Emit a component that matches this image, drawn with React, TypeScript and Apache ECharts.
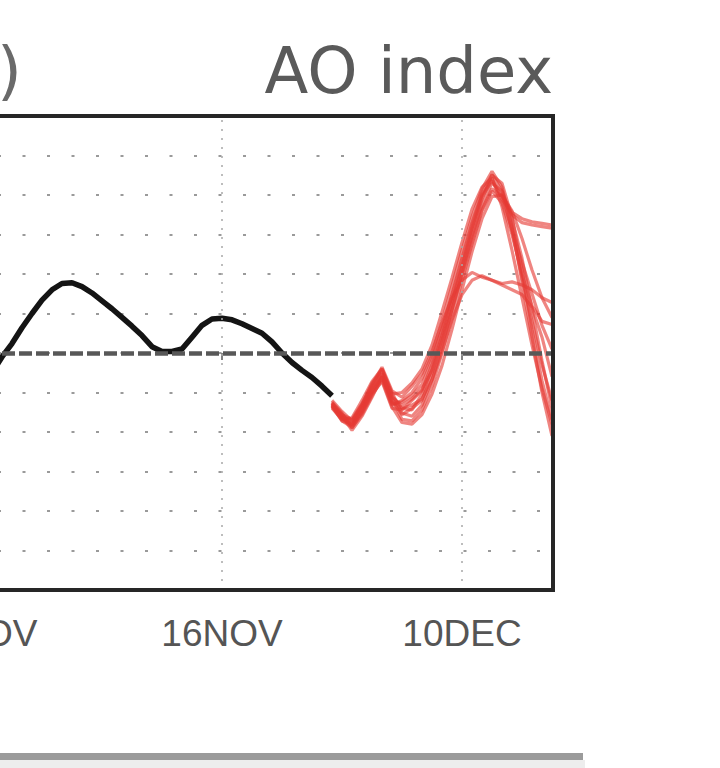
import React, { useEffect, useRef } from "react";
import * as echarts from "echarts";

// Observed AO index (black), x = day number (16 = 16NOV, 40 = 10DEC)
const obsDays = [-10, -9, -8, -7, -6, -5, -4, -3, -2, -1, 0, 1, 2, 3, 4, 5, 6, 7, 8, 9, 10, 11, 12, 13, 14, 15, 16, 17, 18, 19, 20, 21, 22, 23, 24, 25, 26, 27];
const obsValues = [-0.75, -0.62, -0.45, -0.25, -0.05, 0.12, 0.32, 0.5, 0.67, 0.8, 0.88, 0.89, 0.84, 0.76, 0.66, 0.56, 0.45, 0.34, 0.22, 0.08, 0.02, 0.02, 0.05, 0.2, 0.35, 0.43, 0.44, 0.42, 0.37, 0.31, 0.25, 0.14, 0.0, -0.12, -0.22, -0.31, -0.42, -0.54];

// Ensemble forecast members (red)
const fcstDays = [27, 28, 29, 30, 31, 32, 33, 34, 35, 36, 37, 38, 39, 40, 41, 42, 43, 44, 45, 46, 47, 48, 49];
const member1 = [-0.62, -0.76, -0.95, -0.74, -0.5, -0.32, -0.66, -0.6, -0.5, -0.32, -0.02, 0.4, 0.85, 1.3, 1.72, 2.08, 2.3, 2.1, 1.6, 0.9, 0.2, -0.5, -1.05];
const member2 = [-0.7, -0.84, -0.82, -0.6, -0.36, -0.2, -0.5, -0.76, -0.8, -0.66, -0.34, 0.08, 0.55, 1.02, 1.48, 1.88, 2.15, 2.05, 1.7, 1.2, 0.55, -0.1, -0.7];
const member3 = [-0.66, -0.86, -0.9, -0.76, -0.52, -0.36, -0.7, -0.72, -0.6, -0.48, -0.14, 0.26, 0.72, 1.16, 1.6, 2.0, 2.2, 1.95, 1.75, 1.65, 1.62, 1.6, 1.58];
const member4 = [-0.64, -0.8, -0.98, -0.8, -0.56, -0.3, -0.58, -0.84, -0.86, -0.72, -0.42, 0.0, 0.45, 0.92, 1.38, 1.8, 2.05, 1.9, 1.5, 1.0, 0.6, 0.4, 0.36];
const member5 = [-0.68, -0.78, -0.84, -0.64, -0.4, -0.18, -0.48, -0.56, -0.42, -0.26, 0.02, 0.38, 0.7, 0.92, 1.02, 0.96, 0.92, 0.88, 0.9, 0.86, 0.8, 0.7, 0.64];
const member6 = [-0.66, -0.82, -0.92, -0.7, -0.44, -0.26, -0.62, -0.7, -0.66, -0.58, -0.34, 0.02, 0.42, 0.74, 0.92, 0.98, 0.92, 0.86, 0.8, 0.74, 0.58, 0.2, -0.3];
const member7 = [-0.6, -0.74, -0.86, -0.66, -0.42, -0.2, -0.52, -0.5, -0.38, -0.2, 0.1, 0.52, 0.95, 1.4, 1.82, 2.1, 2.22, 1.85, 1.3, 0.7, 0.1, -0.45, -0.9];
const member8 = [-0.64, -0.82, -0.88, -0.68, -0.48, -0.28, -0.56, -0.66, -0.58, -0.46, -0.22, 0.16, 0.6, 1.06, 1.52, 1.95, 2.25, 2.15, 1.72, 1.05, 0.3, -0.35, -0.85];
const member9 = [-0.68, -0.86, -0.94, -0.78, -0.54, -0.34, -0.68, -0.88, -0.9, -0.78, -0.52, -0.16, 0.3, 0.8, 1.28, 1.7, 1.98, 2.0, 1.8, 1.45, 1.05, 0.7, 0.45];
const member10 = [-0.65, -0.8, -0.86, -0.66, -0.38, -0.22, -0.54, -0.7, -0.72, -0.52, -0.2, 0.22, 0.66, 1.1, 1.58, 1.98, 2.18, 1.98, 1.55, 1.15, 0.75, 0.35, 0.05];
const member11 = [-0.63, -0.78, -0.92, -0.72, -0.48, -0.3, -0.6, -0.78, -0.7, -0.6, -0.26, 0.14, 0.55, 0.98, 1.42, 1.82, 2.08, 1.98, 1.78, 1.7, 1.66, 1.64, 1.62];
const member12 = [-0.67, -0.84, -0.9, -0.7, -0.45, -0.26, -0.64, -0.62, -0.54, -0.4, -0.08, 0.3, 0.74, 1.2, 1.65, 2.02, 2.26, 2.05, 1.55, 0.95, 0.4, -0.15, -0.6];
const members = [member1, member2, member3, member4, member5, member6, member7, member8, member9, member10, member11, member12];

// Axis ticks
const tickDays = [-7.5, 16, 40];
const tickLabels = ["1NOV", "16NOV", "10DEC"];
const xMin = -16.2;
const xMax = 49.1;
const yMin = -3;
const yMax = 3;
const yStep = 0.5;

const TITLE = "AO index";
const PANEL = "(a)";

const OFFSET = 150; // chart div shifted left so the plot is cropped like the reference
const W = 870;
const H = 768;

export default function App() {
  const ref = useRef<HTMLDivElement>(null);

  useEffect(() => {
    const chart = echarts.init(ref.current as HTMLDivElement, null, { renderer: "svg" });

    const series: any[] = [];
    series.push({
      type: "line",
      name: "obs",
      data: obsDays.map((d, i) => [d, obsValues[i]]),
      showSymbol: false,
      symbol: "none",
      lineStyle: { color: "#141414", width: 5.5 },
      z: 4,
      markLine: {
        silent: true,
        symbol: "none",
        label: { show: false },
        data: [{ yAxis: 0 }],
        lineStyle: { color: "#585858", width: 4.5, type: [13, 4] },
      },
    });
    series.push({
      type: "line",
      name: "vgrid",
      data: [],
      markLine: {
        silent: true,
        symbol: "none",
        label: { show: false },
        data: tickDays.map((d) => ({ xAxis: d })),
        lineStyle: { color: "#a8a8a8", width: 1.5, type: [2, 7] },
      },
    });
    members.forEach((m, k) => {
      series.push({
        type: "line",
        name: "m" + (k + 1),
        data: fcstDays.map((d, i) => [d, m[i]]),
        showSymbol: false,
        symbol: "none",
        lineStyle: { color: "#e53a34", width: 3.2, opacity: 0.62 },
        z: 3,
      });
    });

    chart.setOption({
      animation: false,
      backgroundColor: "#ffffff",
      grid: {
        left: 50,
        right: W - (553 + OFFSET),
        top: 116,
        bottom: H - 590,
        show: true,
        borderColor: "#262626",
        borderWidth: 4,
        backgroundColor: "transparent",
        z: 10,
      },
      xAxis: {
        type: "value",
        min: xMin,
        max: xMax,
        axisLine: { show: false },
        splitLine: { show: false },
        axisTick: {
          show: true,
          customValues: tickDays,
          length: 7,
          lineStyle: { color: "#808080", width: 2 },
        },
        axisLabel: {
          show: true,
          customValues: tickDays,
          margin: 25,
          fontFamily: "'Liberation Sans', Arial, sans-serif",
          fontSize: 37,
          color: "#555555",
          formatter: (v: number) => {
            const i = tickDays.indexOf(v);
            return i >= 0 ? tickLabels[i] : "";
          },
        },
      },
      yAxis: {
        type: "value",
        min: yMin,
        max: yMax,
        interval: yStep,
        axisLine: { show: false },
        axisTick: { show: false },
        axisLabel: { show: false },
        splitLine: {
          show: true,
          lineStyle: { color: "#9a9a9a", width: 2.2, type: [3, 21.5] },
        },
      },
      graphic: [
        {
          type: "text",
          x: 553 + OFFSET,
          y: 71,
          style: {
            text: TITLE,
            font: "64px 'DejaVu Sans', sans-serif",
            fill: "#5a5a5a",
            align: "right",
            verticalAlign: "middle",
          },
        },
        {
          type: "text",
          x: 22 + OFFSET,
          y: 71,
          style: {
            text: PANEL,
            font: "64px 'DejaVu Sans', sans-serif",
            fill: "#6a6a6a",
            align: "right",
            verticalAlign: "middle",
          },
        },
        {
          type: "rect",
          shape: { x: OFFSET, y: 753, width: 583, height: 7 },
          style: { fill: "#9b9b9b" },
        },
        {
          type: "rect",
          shape: { x: OFFSET, y: 760, width: 585, height: 8 },
          style: { fill: "#ededed" },
        },
      ],
      series,
    });

    return () => chart.dispose();
  }, []);

  return (
    <div
      ref={ref}
      style={{ position: "fixed", left: -OFFSET, top: 0, width: W, height: H, background: "#ffffff" }}
    />
  );
}
